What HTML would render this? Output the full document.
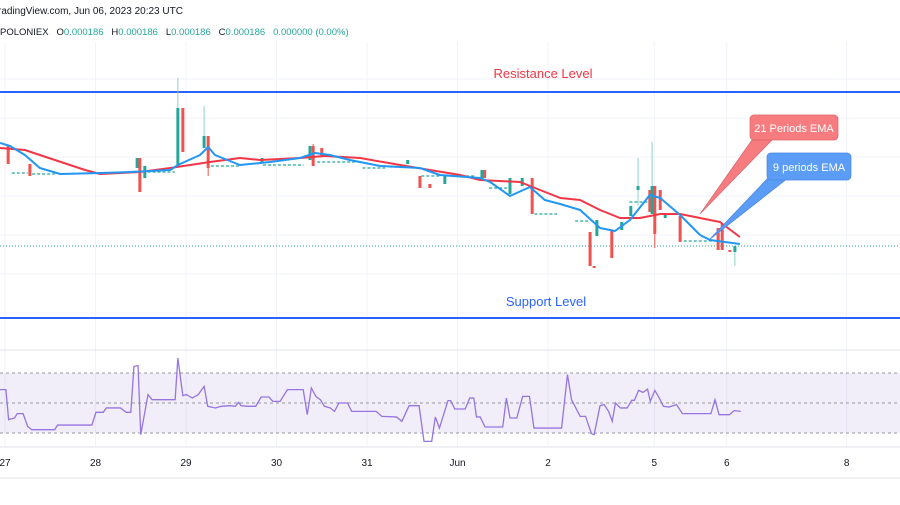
<!DOCTYPE html>
<html><head><meta charset="utf-8">
<style>
html,body{margin:0;padding:0;background:#fff;}
body{width:900px;height:500px;overflow:hidden;font-family:"Liberation Sans",sans-serif;}
svg text{font-family:"Liberation Sans",sans-serif;}
</style></head>
<body>
<svg id="chart" width="900" height="500" viewBox="0 0 900 500">
  <g id="grid"></g>
  <text x="-2" y="14" font-size="10" fill="#131722">radingView.com, Jun 06, 2023 20:23 UTC</text>
  <text x="0" y="35" font-size="9.5" fill="#131722" xml:space="preserve">POLONIEX   O<tspan fill="#26a69a">0.000186</tspan>   H<tspan fill="#26a69a">0.000186</tspan>   L<tspan fill="#26a69a">0.000186</tspan>   C<tspan fill="#26a69a">0.000186</tspan>   <tspan fill="#26a69a">0.000000 (0.00%)</tspan></text>
  <g id="levels"></g>
  <g id="candles"></g>
  <g id="emas"></g>
  <g id="rsi"></g>
  <g id="xaxis"></g>
  <g>
    <path d="M752,140 L772,140 L700,214 Z" fill="#f77c80" stroke="#d9666b" stroke-width="0.7"/>
    <rect x="750" y="115" width="88" height="25" rx="4" fill="#f77c80" stroke="#d9666b" stroke-width="0.7"/>
    <text x="794" y="132" font-size="11" fill="#fff" text-anchor="middle">21 Periods EMA</text>
  </g>
  <g>
    <path d="M768,178 L788,178 L709,240 Z" fill="#5b9cf6" stroke="#4a86e0" stroke-width="0.7"/>
    <rect x="767" y="153" width="84" height="27" rx="4" fill="#5b9cf6" stroke="#4a86e0" stroke-width="0.7"/>
    <text x="809" y="171" font-size="11" fill="#fff" text-anchor="middle">9 periods EMA</text>
  </g>
</svg>
<script>
// ---- data ----
const candleT = [0.7,5.5,29.2,29.8,30.9,38.2,39.3,44,44.9,56.8,67.4,68.1,70,89,91.7,93.9,97.2,105.4,106,111.6,114.3,116.5,129.3,130.2,130.8,134.1,136.3,138.3,139.9,142.5,143,143.6,144.8,145.9,149.2,157.6,158.5,160.2,161.3];
const candleO = [1910,1901,1899,1904,1894,1900,1929,1909,1915,1902,1903,1910,1909,1901,1895,1891,1891,1894,1898,1886,1890,1894,1867,1850,1865,1868,1868,1875,1888,1888,1876,1890,1888,1874,1875,1869,1871,1858,1857];
const candleH = [1910,1901,1904,1904,1900,1944,1929,1930,1915,1904,1910,1911,1909,1903,1895,1891,1895,1898,1898,1894,1894,1894,1867,1850,1873,1868,1872,1880,1904,1888,1912,1890,1888,1876,1875,1869,1871,1858,1860];
const candleL = [1901,1895,1899,1887,1894,1900,1907,1909,1895,1902,1903,1900,1905,1901,1889,1889,1891,1894,1894,1886,1890,1876,1850,1849,1865,1854,1868,1875,1880,1877,1876,1859,1878,1874,1862,1858,1858,1857,1850];
const candleC = [1901,1895,1904,1887,1900,1929,1907,1915,1899,1904,1910,1900,1905,1903,1889,1889,1895,1898,1894,1894,1894,1876,1850,1849,1873,1854,1872,1880,1890,1877,1890,1866,1878,1876,1862,1858,1858,1857,1860];
const flatStartT = [1.5,6,31.5,45.5,57,69,79,85,92,97.5,107,117,126,138,150];
const flatEndT = [5,11,37.5,52,66,79,84,88,96,104,111,122,129,142,157];
const flatV = [1896.5,1896,1897,1900,1900.5,1902,1899,1899.5,1895,1895,1889,1876,1872.5,1882,1862.5];
const ema21T = [-1.1,4.4,7.7,17.7,21,29.8,36.5,45.3,51.9,56.4,65.2,70.7,78.5,87.3,93.9,100.6,105,113.8,122.7,127.1,131.5,135.9,140.3,144.8,149.2,153.6,158,162.4];
const ema21V = [1909,1908,1905.5,1898,1896,1897,1899,1902,1904,1903,1904,1905,1904,1900.5,1898,1895.5,1893,1892,1884,1883,1878,1874,1874,1876,1876,1874,1872,1864.5];
const ema9T = [-1.1,1.1,4.4,7.7,12.2,21,27.6,36.5,38.2,43.1,44.9,46.4,51.9,58.6,65.2,68.5,71.8,76.2,82.9,91.7,96.1,105,107.2,111.6,116,119.3,122.7,127.1,131.5,134.8,138.1,142.5,144.8,149.2,153.6,155.8,162.4];
const ema9V = [1911.5,1910,1905.5,1899,1896,1896.5,1897,1898,1900.5,1905.5,1909.5,1905.5,1900.5,1902,1904,1906.5,1905.5,1903,1900,1899,1895.5,1894,1892,1885,1889.5,1883,1881,1878,1869,1867.5,1873,1885.5,1884,1875.5,1865.5,1863,1861];
const rsiT = [-1.1,0.2,0.8,2.1,2.7,4,5,5.9,11,11.6,19.2,20.1,21.7,22.4,25.5,26.8,27.8,28.5,29.4,30,31.6,32.5,37.6,38.2,39.3,40.1,41.4,42.7,44,44.8,46.5,47.8,49.7,50.9,51.6,52.2,53.5,55.4,56.6,58.3,59.2,60.8,62.4,65.9,66.8,67.7,68.7,69.7,70.6,71.9,72.8,73.8,75.7,76.6,82,83.3,86.5,87.7,89.3,91.5,92.6,94.3,95.1,96,97.9,98.5,99.4,101.7,102.7,103.6,104.2,105,106.1,110,110.8,111.6,113.1,114.4,115.9,116.9,123,124.3,125.2,127.1,128.3,129.6,130.2,131.5,132.4,133.4,134.2,134.9,136,137.5,138.5,139.1,140,141,142,142.6,143.6,144.6,145.5,146.7,148.4,149.7,156,156.9,157.8,159.4,160.1,161.1,162.6];
const rsiV = [58.9,58.9,38.9,40,42.9,42.9,34.4,32.2,32.2,35.3,35.3,43.8,43.8,46.7,46.7,43.8,43.8,74.4,74.9,28.9,55.6,52.2,52.2,80,54.9,55.6,53.3,55.6,61.1,47.8,46.7,47.8,48.2,47.8,50.4,48.2,47.8,47.8,54,54,51.1,51.1,58.9,58.9,42.2,60,54.4,52.2,47.8,46.7,44.4,50,50,44.4,44.4,41.1,40.7,37.8,48.2,48.2,24.4,24.4,40.7,33.3,51.6,51.6,46,46,53.3,53.3,40.7,40.7,34,34,53.3,40,40,54.4,54.4,33.3,33.3,68.9,52.2,41.1,41.1,29.6,28.9,48.2,48.9,44.4,37.8,50,46.7,46.7,51.8,51.8,58.4,57.1,59.3,51.1,58.4,53.3,47.8,47.3,48.9,42.9,42.9,52.2,42.2,42.2,42.2,44.9,44.4];
const tickT = [0,20,40,60,80,100,120,143.5,159.5,186];
const tickLabels = ["27","28","29","30","31","Jun","2","5","6","8"];
const resistanceV = 1937;
const supportV = 1824;
const lastPriceV = 1860;
const rsiLevels = [70,50,30];

// ---- scales ----
const X = t => 5 + t*4.525;
const Y = v => 246 - (v-1860)*2;
const RY = v => 403 - (v-50)*1.5;
const NS = 'http://www.w3.org/2000/svg';
function mk(tag, parent, attrs){const e=document.createElementNS(NS,tag);for(const k in attrs)e.setAttribute(k,attrs[k]);parent.appendChild(e);return e;}

// grid
const grid = document.getElementById('grid');
[79,118,157,196,235,274,313].forEach(y=>{const l=mk('line',grid,{x1:0,x2:900,y1:y,y2:y,stroke:'#f0f3fa','stroke-width':1});

});
tickT.forEach(t=>{const l=mk('line',grid,{x1:X(t),x2:X(t),y1:42,y2:447,stroke:'#f0f3fa','stroke-width':1});

});

// levels
const lv = document.getElementById('levels');
const rl = mk('line',lv,{x1:0,x2:900,y1:Y(resistanceV),y2:Y(resistanceV),stroke:'#2962ff','stroke-width':2});


const rt = mk('text',lv,{x:543,y:Y(resistanceV)-14,'font-size':13,fill:'#f23645','text-anchor':'middle'}); rt.textContent='Resistance Level';


const sl = mk('line',lv,{x1:0,x2:900,y1:Y(supportV),y2:Y(supportV),stroke:'#2962ff','stroke-width':2});


const st = mk('text',lv,{x:546,y:Y(supportV)-12,'font-size':13,fill:'#2962ff','text-anchor':'middle'}); st.textContent='Support Level';


const lp = mk('line',lv,{x1:0,x2:900,y1:Y(lastPriceV),y2:Y(lastPriceV),stroke:'#26a69a','stroke-width':1,'stroke-dasharray':'1 2'});



// candles
const cg = document.getElementById('candles');
flatStartT.forEach((t,i)=>{
  const f = mk('line',cg,{x1:X(t),x2:X(flatEndT[i]),y1:Y(flatV[i]),y2:Y(flatV[i]),stroke:'#26a69a','stroke-width':1.2,'stroke-dasharray':'3 2'});
  
  
});
candleT.forEach((t,i)=>{
  const up = candleC[i]>=candleO[i], col = up?'#26a69a':'#ef5350';
  const x = X(t);
  const w = mk('line',cg,{x1:x,x2:x,y1:Y(candleH[i]),y2:Y(candleL[i]),stroke:up?'#8fd0c9':'#ef5350','stroke-width':1});
  
  
  const top = Y(Math.max(candleO[i],candleC[i])), bot = Y(Math.min(candleO[i],candleC[i]));
  const b = mk('rect',cg,{x:x-1.5,y:top,width:3,height:Math.max(1,bot-top),fill:col});
  
  
});

// EMAs
const eg = document.getElementById('emas');
function line(ts,vs,col,name){
  const p = mk('polyline',eg,{points:ts.map((t,i)=>X(t)+','+Y(vs[i])).join(' '),fill:'none',stroke:col,'stroke-width':2,'stroke-linejoin':'round'});
  
  
}
line(ema21T,ema21V,'#f23645','ema21-line');
line(ema9T,ema9V,'#2196f3','ema9-line');

// RSI pane
const rg = document.getElementById('rsi');
const pl = mk('line',rg,{x1:0,x2:900,y1:350,y2:350,stroke:'#e0e3eb','stroke-width':1});


const band = mk('rect',rg,{x:0,y:RY(70),width:900,height:RY(30)-RY(70),fill:'#7e57c2','fill-opacity':0.1});


rsiLevels.forEach(v=>{const l=mk('line',rg,{x1:0,x2:900,y1:RY(v),y2:RY(v),stroke:'#9598a1','stroke-width':1,'stroke-dasharray':'3 3'});

});
const rp = mk('polyline',rg,{points:rsiT.map((t,i)=>X(t)+','+RY(rsiV[i])).join(' '),fill:'none',stroke:'#9575e0','stroke-width':1.3});



// x axis
const xg = document.getElementById('xaxis');
[447,478].forEach(y=>{const l=mk('line',xg,{x1:0,x2:900,y1:y,y2:y,stroke:'#e0e3eb','stroke-width':1});

});
tickT.forEach((t,i)=>{const tx=mk('text',xg,{x:X(t),y:466,'font-size':10,fill:'#131722','text-anchor':'middle'});tx.textContent=tickLabels[i];

});
</script>
</body></html>
